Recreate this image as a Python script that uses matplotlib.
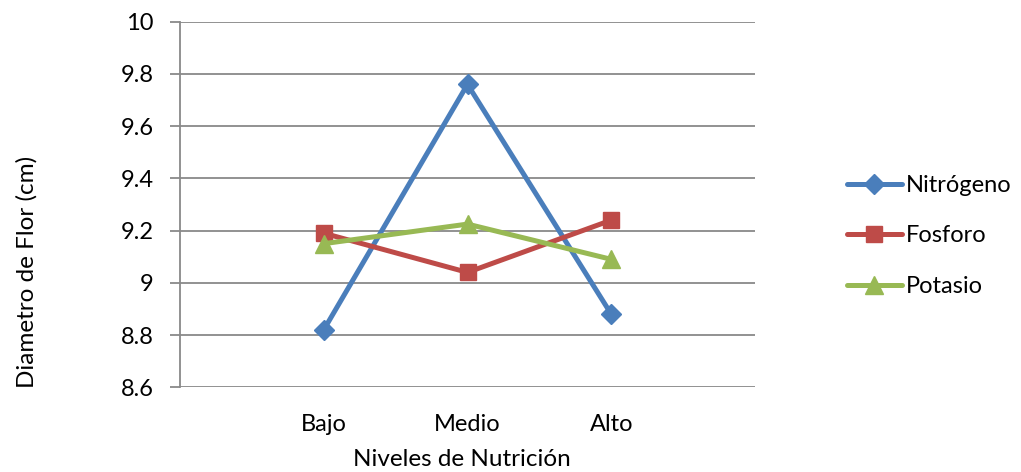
import matplotlib.pyplot as plt

# Flower diameter by nutrition level for each nutrient
niveles = ["Bajo", "Medio", "Alto"]
nitrogeno = [8.82, 9.76, 8.88]
fosforo = [9.19, 9.04, 9.24]
potasio = [9.15, 9.225, 9.09]

plt.rcParams['font.family'] = ['Lato', 'DejaVu Sans']

fig = plt.figure(figsize=(10.21, 4.72), dpi=100)
ax = fig.add_axes([180 / 1021, 1 - 387.3 / 472, 575 / 1021, 365.6 / 472])

x = range(len(niveles))
series = [
    ("Nitrógeno", nitrogeno, "#4A7EBB", "D", 10.5),
    ("Fosforo", fosforo, "#BE4B48", "s", 11.5),
    ("Potasio", potasio, "#98B954", "^", 12.5),
]
for name, vals, color, marker, ms in series:
    ax.plot(x, vals, color=color, linewidth=3.6, marker=marker, markersize=ms,
            label=name, solid_capstyle="round")

ax.set_xlim(-1, 3)
ax.set_ylim(8.6, 10)
ax.set_yticks([8.6, 8.8, 9.0, 9.2, 9.4, 9.6, 9.8, 10.0])
ax.set_yticklabels(["8.6", "8.8", "9", "9.2", "9.4", "9.6", "9.8", "10"])
ax.set_xticks(list(x))
ax.set_xticklabels(niveles)
ax.grid(axis="y", color="#898989", linewidth=1.3)
ax.set_axisbelow(True)

for side in ["top", "right", "bottom"]:
    ax.spines[side].set_visible(False)
ax.spines["left"].set_color("#898989")
ax.spines["left"].set_linewidth(1.3)
ax.tick_params(axis="y", length=7, width=1.3, color="#898989", labelsize=17, pad=12)
ax.tick_params(axis="x", length=0, labelsize=17, pad=19)

fig.text(462 / 1021, 1 - 459 / 472, "Niveles de Nutrición", ha="center", va="center", fontsize=17.5)
fig.text(27 / 1021, 1 - 272 / 472, "Diametro de Flor (cm)", ha="center", va="center",
         rotation=90, fontsize=17.5)

leg = ax.legend(loc="center left", bbox_to_anchor=(826 / 1021, 1 - 236 / 472),
                bbox_transform=fig.transFigure, frameon=False, fontsize=17,
                handlelength=2.3, handletextpad=0.2, labelspacing=1.25)

fig.savefig("out.png", dpi=100)
